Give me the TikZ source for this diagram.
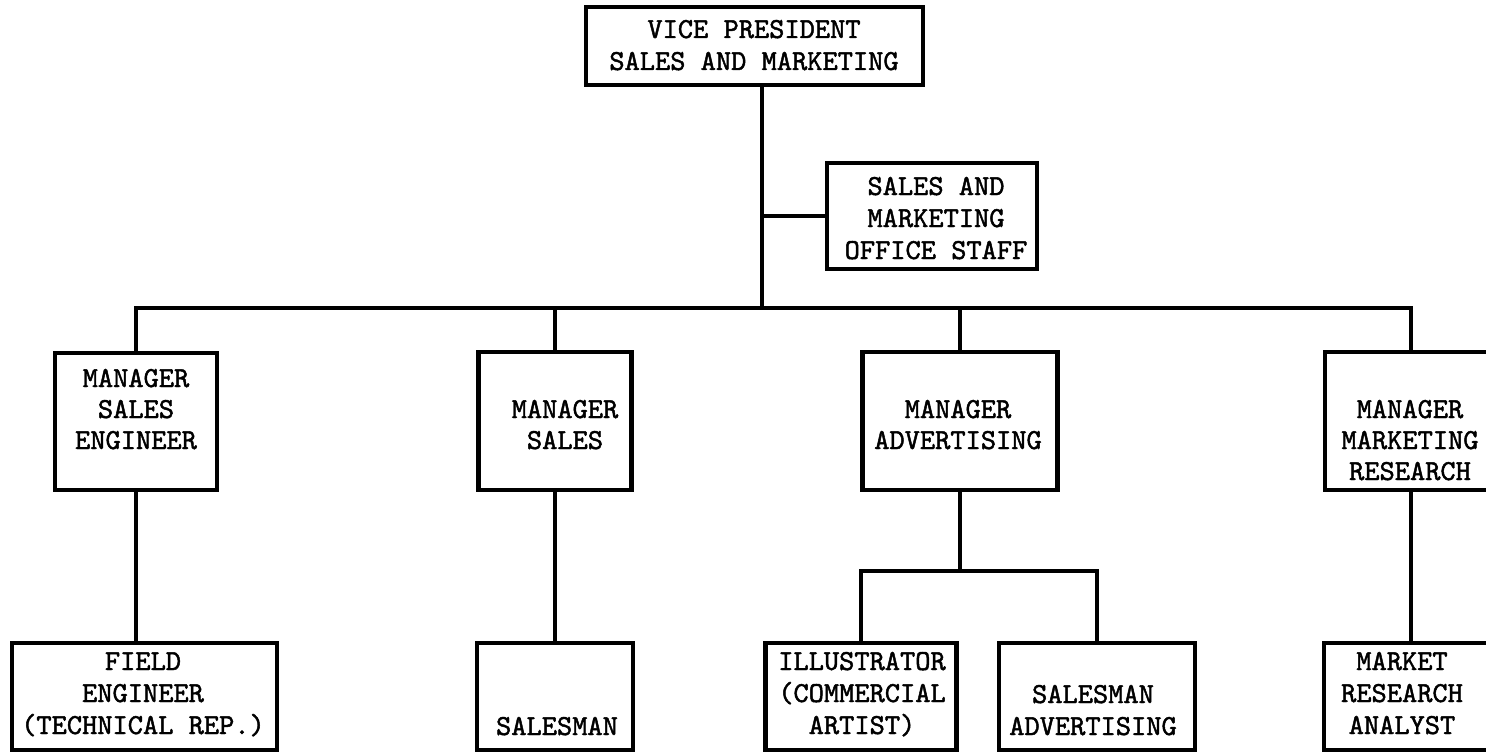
\documentclass[tikz,border=0pt]{standalone}
\usepackage{fontspec}
\newfontfamily\typewriter{lmmono10-regular.otf}[FakeBold=1.6]
\newcommand{\stack}[1]{\begin{tabular}[t]{@{}c@{}}#1\end{tabular}}
\begin{document}
\begin{tikzpicture}[x=1pt,y=-1pt,
  box/.style={draw=black,line width=4.5pt,fill=none,inner sep=0pt,line join=miter},
  txt/.style={anchor=base,inner sep=0pt,text=black,font=\fontsize{29}{32}\selectfont\typewriter},
  txtup/.style={txt,font=\fontsize{29}{31}\selectfont\typewriter},
  link/.style={draw=black,line width=4pt,line join=miter,line cap=rect}]
\useasboundingbox[fill=white] (0,0) rectangle (1486,752);

% boxes
\node[box,minimum width=337pt,minimum height=78pt]  (vp)    at (754.5,46) {};
\node[box,minimum width=210pt,minimum height=106pt] (staff) at (932,216) {};
\node[box,minimum width=162pt,minimum height=137pt] (mse)   at (136,421.5) {};
\node[box,minimum width=153pt,minimum height=138pt] (ms)    at (555,421) {};
\node[box,minimum width=195pt,minimum height=138pt] (ma)    at (960,421) {};
\node[box,minimum width=300pt,minimum height=138pt] (mmr)   at (1475,421) {};
\node[box,minimum width=265pt,minimum height=107pt] (fe)    at (144.5,696.5) {};
\node[box,minimum width=156pt,minimum height=107pt] (sm)    at (555,696.5) {};
\node[box,minimum width=191pt,minimum height=107pt] (il)    at (861,696.5) {};
\node[box,minimum width=196pt,minimum height=107pt] (sa)    at (1097,696.5) {};
\node[box,minimum width=300pt,minimum height=107pt] (mra)   at (1474,696.5) {};

% labels
\node[txt]   (tvp)    at (754,38)   {\stack{VICE PRESIDENT\\SALES AND MARKETING}};
\node[txt]   (tstaff) at (936,195)  {\stack{SALES AND\\MARKETING\\OFFICE STAFF}};
\node[txtup] (tmse)   at (136,387)  {\stack{MANAGER\\SALES\\ENGINEER}};
\node[txtup] (tms)    at (565,418)  {\stack{MANAGER\\SALES}};
\node[txtup] (tma)    at (958,418)  {\stack{MANAGER\\ADVERTISING}};
\node[txtup] (tmmr)   at (1410,418) {\stack{MANAGER\\MARKETING\\RESEARCH}};
\node[txt]   (tfe)    at (143,670)  {\stack{FIELD\\ENGINEER\\(TECHNICAL REP.)}};
\node[txt]   (tsm)    at (557,735)  {\stack{SALESMAN}};
\node[txt]   (til)    at (862,670)  {\stack{ILLUSTRATOR\\(COMMERCIAL\\ARTIST)}};
\node[txt]   (tsa)    at (1093,703) {\stack{SALESMAN\\ADVERTISING}};
\node[txt]   (tmra)   at (1402,670) {\stack{MARKET\\RESEARCH\\ANALYST}};

% junction points of the connector lines
\coordinate (hub)   at (762,308);
\coordinate (adbus) at (960,571);
\coordinate (mrx)   at (1411,0);

% connectors
\draw[link] (vp.south -| hub) -- (hub);
\draw[link] (staff.west) -- (staff.west -| hub);
\draw[link] (mse.north) |- (mrx |- hub) -- (mrx |- mmr.north);
\draw[link] (ms.north) -- (ms.north |- hub);
\draw[link] (ma.north) -- (ma.north |- hub);
\draw[link] (mse.south) -- (mse.south |- fe.north);
\draw[link] (ms.south) -- (ms.south |- sm.north);
\draw[link] (mrx |- mmr.south) -- (mrx |- mra.north);
\draw[link] (ma.south) -- (adbus);
\draw[link] (il.north) |- (sa.north |- adbus) -- (sa.north);
\end{tikzpicture}
\end{document}
